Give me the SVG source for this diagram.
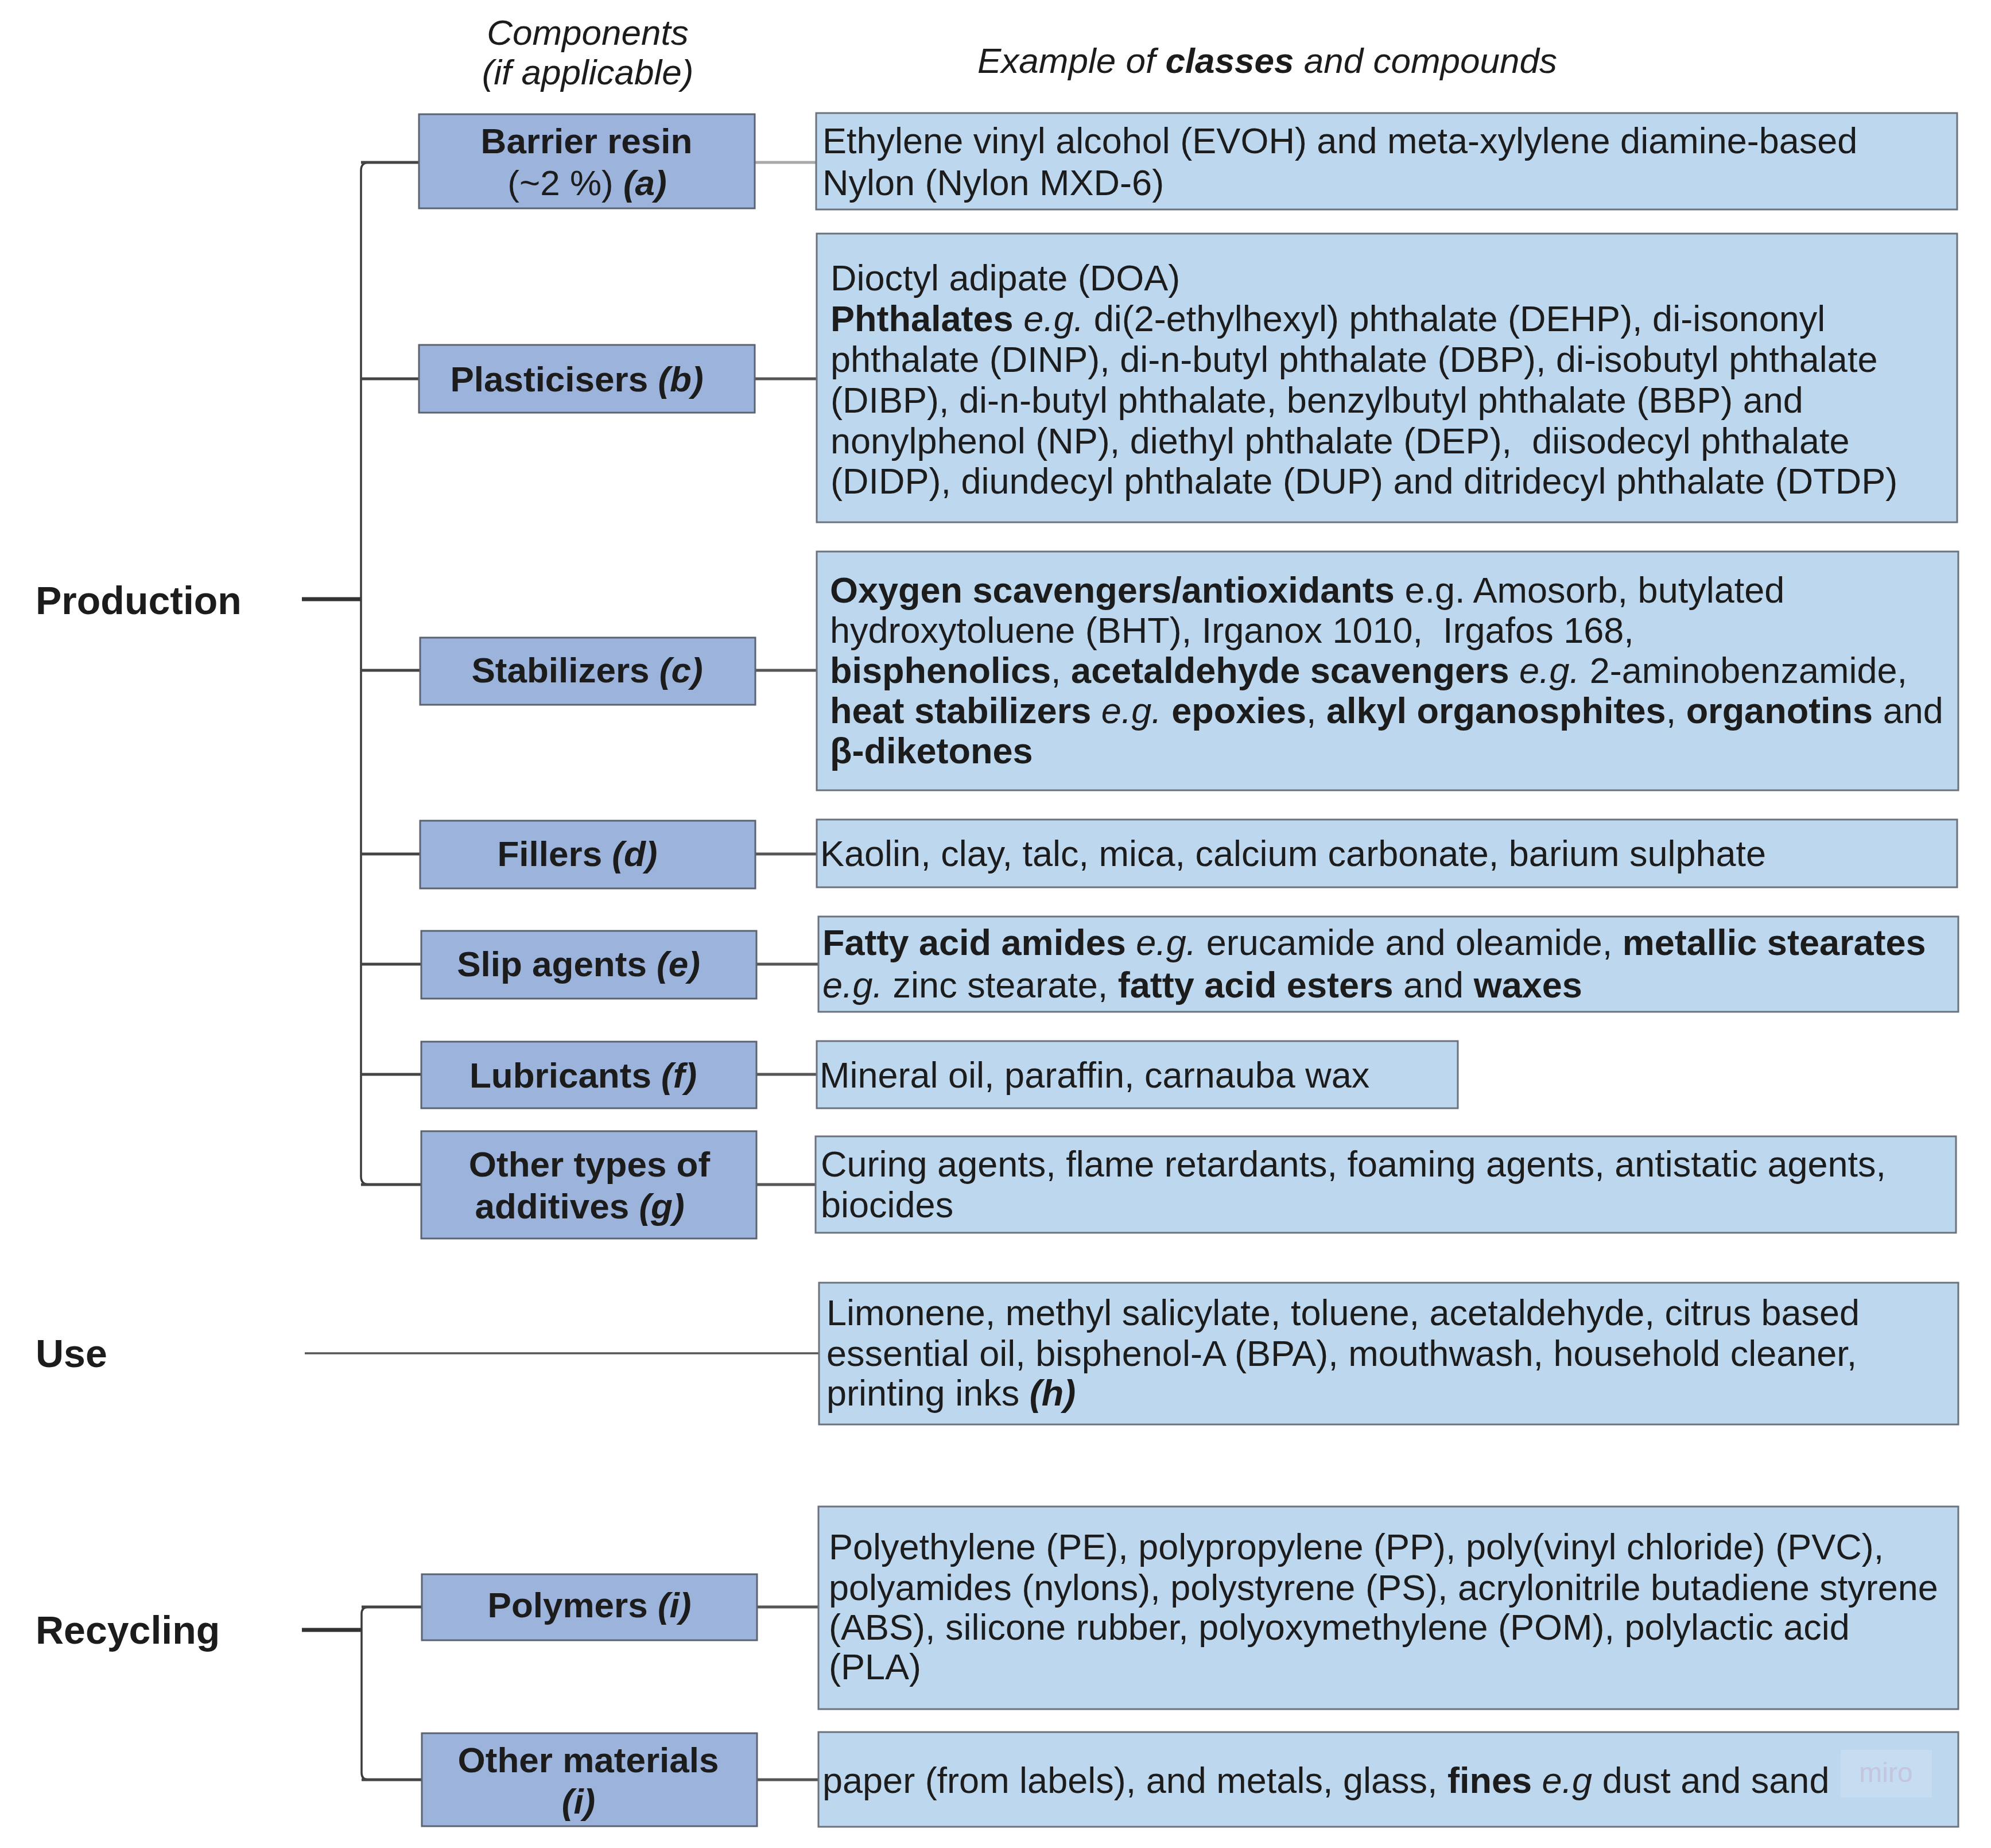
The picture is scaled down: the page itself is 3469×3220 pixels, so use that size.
<svg xmlns="http://www.w3.org/2000/svg" width="3469" height="3220" viewBox="0 0 3469 3220">
<style>
text { font-family: "Liberation Sans", Arial, sans-serif; fill: #1c1c1c; }
.comp { fill: #9cb3db; stroke: #5c6370; stroke-width: 3; }
.cont { fill: #bdd7ee; stroke: #6b727d; stroke-width: 3; }
.lbl { font-size: 62px; font-weight: bold; text-anchor: middle; }
.txt { font-size: 63px; }
.hdr { font-size: 62px; font-style: italic; }
.stage { font-size: 68px; font-weight: bold; }
.b { font-weight: bold; }
.n { font-weight: normal; }
.i { font-style: italic; }
.trunk { fill: none; stroke: #3a3a3a; stroke-width: 3.5; }
.branch { fill: none; stroke: #444; stroke-width: 5; }
.link { fill: none; stroke: #555; stroke-width: 5; }
.stub { fill: none; stroke: #333; stroke-width: 7; }
</style>
<rect width="3469" height="3220" fill="#ffffff"/>

<g id="headers">
  <text class="hdr" x="1024" y="78" text-anchor="middle">Components</text>
  <text class="hdr" x="1024" y="147" text-anchor="middle">(if applicable)</text>
  <text class="hdr" x="1703" y="127">Example of <tspan class="b">classes</tspan> and compounds</text>
</g>

<g id="connectors">
  <path class="stub" d="M526 1044 H629"/>
  <path class="trunk" d="M730 283 H643 Q629 283 629 297 V2050 Q629 2064 643 2064 H734"/>
  <path class="branch" d="M629 283 H730"/>
  <path class="branch" d="M629 660 H730"/>
  <path class="branch" d="M629 1168 H732"/>
  <path class="branch" d="M629 1488 H732"/>
  <path class="branch" d="M629 1680 H734"/>
  <path class="branch" d="M629 1872 H734"/>
  <path class="branch" d="M629 2064 H734"/>
  <path class="link" style="stroke:#a9a9a9" d="M1315 283 H1422"/>
  <path class="link" d="M1315 660 H1423"/>
  <path class="link" d="M1316 1168 H1423"/>
  <path class="link" d="M1316 1488 H1423"/>
  <path class="link" d="M1318 1680 H1426"/>
  <path class="link" d="M1318 1872 H1423"/>
  <path class="link" d="M1318 2064 H1421"/>
  <path class="link" style="stroke-width:3.5" d="M531 2358 H1427"/>
  <path class="stub" d="M526 2840 H630"/>
  <path class="trunk" d="M735 2800 H642 Q630 2800 630 2812 V3089 Q630 3101 642 3101 H735"/>
  <path class="branch" d="M630 2800 H735"/>
  <path class="branch" d="M630 3101 H735"/>
  <path class="link" d="M1319 2800 H1426"/>
  <path class="link" d="M1319 3101 H1426"/>
</g>

<g id="production">
  <text class="stage" x="62" y="1070">Production</text>
</g>
<g id="use">
  <text class="stage" x="62" y="2382">Use</text>
</g>
<g id="recycling">
  <text class="stage" x="62" y="2864">Recycling</text>
</g>

<g id="barrier-resin">
  <rect class="comp" x="730" y="199" width="585" height="164"/>
  <text class="lbl" x="1022" y="267">Barrier resin</text>
  <text class="lbl" x="1023" y="340"><tspan class="n">(~2 %) </tspan><tspan class="i">(a)</tspan></text>
</g>
<g id="barrier-resin-examples">
  <rect class="cont" x="1422" y="197" width="1988" height="168"/>
  <text class="txt" x="1433" y="267">Ethylene vinyl alcohol (EVOH) and meta-xylylene diamine-based</text>
  <text class="txt" x="1433" y="340">Nylon (Nylon MXD-6)</text>
</g>

<g id="plasticisers">
  <rect class="comp" x="730" y="601" width="585" height="118"/>
  <text class="lbl" x="1005" y="682">Plasticisers <tspan class="i">(b)</tspan></text>
</g>
<g id="plasticisers-examples">
  <rect class="cont" x="1423" y="407" width="1987" height="503"/>
  <text class="txt" x="1447" y="506">Dioctyl adipate (DOA)</text>
  <text class="txt" x="1447" y="577"><tspan class="b">Phthalates</tspan> <tspan class="i">e.g.</tspan> di(2-ethylhexyl) phthalate (DEHP), di-isononyl</text>
  <text class="txt" x="1447" y="648">phthalate (DINP), di-n-butyl phthalate (DBP), di-isobutyl phthalate</text>
  <text class="txt" x="1447" y="719">(DIBP), di-n-butyl phthalate, benzylbutyl phthalate (BBP) and</text>
  <text class="txt" x="1447" y="790" xml:space="preserve">nonylphenol (NP), diethyl phthalate (DEP),  diisodecyl phthalate</text>
  <text class="txt" x="1447" y="860">(DIDP), diundecyl phthalate (DUP) and ditridecyl phthalate (DTDP)</text>
</g>

<g id="stabilizers">
  <rect class="comp" x="732" y="1111" width="584" height="117"/>
  <text class="lbl" x="1023" y="1189">Stabilizers <tspan class="i">(c)</tspan></text>
</g>
<g id="stabilizers-examples">
  <rect class="cont" x="1423" y="961" width="1989" height="416"/>
  <text class="txt" x="1446" y="1050"><tspan class="b">Oxygen scavengers/antioxidants</tspan> e.g. Amosorb, butylated</text>
  <text class="txt" x="1446" y="1120" xml:space="preserve">hydroxytoluene (BHT), Irganox 1010,  Irgafos 168,</text>
  <text class="txt" x="1446" y="1190"><tspan class="b">bisphenolics</tspan>, <tspan class="b">acetaldehyde scavengers</tspan> <tspan class="i">e.g.</tspan> 2-aminobenzamide,</text>
  <text class="txt" x="1446" y="1260"><tspan class="b">heat stabilizers</tspan> <tspan class="i">e.g.</tspan> <tspan class="b">epoxies</tspan>, <tspan class="b">alkyl organosphites</tspan>, <tspan class="b">organotins</tspan> and</text>
  <text class="txt b" x="1446" y="1330">β-diketones</text>
</g>

<g id="fillers">
  <rect class="comp" x="732" y="1430" width="584" height="118"/>
  <text class="lbl" x="1006" y="1509">Fillers <tspan class="i">(d)</tspan></text>
</g>
<g id="fillers-examples">
  <rect class="cont" x="1423" y="1428" width="1987" height="118"/>
  <text class="txt" x="1429" y="1509">Kaolin, clay, talc, mica, calcium carbonate, barium sulphate</text>
</g>

<g id="slip-agents">
  <rect class="comp" x="734" y="1622" width="584" height="118"/>
  <text class="lbl" x="1008" y="1701">Slip agents <tspan class="i">(e)</tspan></text>
</g>
<g id="slip-agents-examples">
  <rect class="cont" x="1426" y="1597" width="1986" height="166"/>
  <text class="txt" x="1433" y="1664"><tspan class="b">Fatty acid amides</tspan> <tspan class="i">e.g.</tspan> erucamide and oleamide, <tspan class="b">metallic stearates</tspan></text>
  <text class="txt" x="1433" y="1738"><tspan class="i">e.g.</tspan> zinc stearate, <tspan class="b">fatty acid esters</tspan> and <tspan class="b">waxes</tspan></text>
</g>

<g id="lubricants">
  <rect class="comp" x="734" y="1815" width="584" height="116"/>
  <text class="lbl" x="1016" y="1895">Lubricants <tspan class="i">(f)</tspan></text>
</g>
<g id="lubricants-examples">
  <rect class="cont" x="1423" y="1814" width="1117" height="117"/>
  <text class="txt" x="1428" y="1895">Mineral oil, paraffin, carnauba wax</text>
</g>

<g id="other-additives">
  <rect class="comp" x="734" y="1971" width="584" height="187"/>
  <text class="lbl" x="1027" y="2050">Other types of</text>
  <text class="lbl" x="1010" y="2123">additives <tspan class="i">(g)</tspan></text>
</g>
<g id="other-additives-examples">
  <rect class="cont" x="1421" y="1980" width="1987" height="168"/>
  <text class="txt" x="1430" y="2050">Curing agents, flame retardants, foaming agents, antistatic agents,</text>
  <text class="txt" x="1430" y="2121">biocides</text>
</g>

<g id="use-examples">
  <rect class="cont" x="1427" y="2235" width="1985" height="247"/>
  <text class="txt" x="1440" y="2309">Limonene, methyl salicylate, toluene, acetaldehyde, citrus based</text>
  <text class="txt" x="1440" y="2380">essential oil, bisphenol-A (BPA), mouthwash, household cleaner,</text>
  <text class="txt" x="1440" y="2449">printing inks <tspan class="b i">(h)</tspan></text>
</g>

<g id="polymers">
  <rect class="comp" x="735" y="2743" width="584" height="115"/>
  <text class="lbl" x="1027" y="2818">Polymers <tspan class="i">(i)</tspan></text>
</g>
<g id="polymers-examples">
  <rect class="cont" x="1426" y="2625" width="1986" height="353"/>
  <text class="txt" x="1444" y="2717">Polyethylene (PE), polypropylene (PP), poly(vinyl chloride) (PVC),</text>
  <text class="txt" x="1444" y="2788">polyamides (nylons), polystyrene (PS), acrylonitrile butadiene styrene</text>
  <text class="txt" x="1444" y="2857">(ABS), silicone rubber, polyoxymethylene (POM), polylactic acid</text>
  <text class="txt" x="1444" y="2926">(PLA)</text>
</g>

<g id="other-materials">
  <rect class="comp" x="735" y="3020" width="584" height="162"/>
  <text class="lbl" x="1025" y="3088">Other materials</text>
  <text class="lbl i" x="1008" y="3160">(i)</text>
</g>
<g id="other-materials-examples">
  <rect class="cont" x="1426" y="3018" width="1986" height="165"/>
  <text class="txt" x="1433" y="3124">paper (from labels), and metals, glass, <tspan class="b">fines</tspan> <tspan class="i">e.g</tspan> dust and sand</text>
  <rect x="3207" y="3049" width="159" height="83" fill="#c6dcf1"/>
  <text x="3286" y="3105" text-anchor="middle" style="font-size:48px; fill:#c3c6dc;">miro</text>
</g>
</svg>
